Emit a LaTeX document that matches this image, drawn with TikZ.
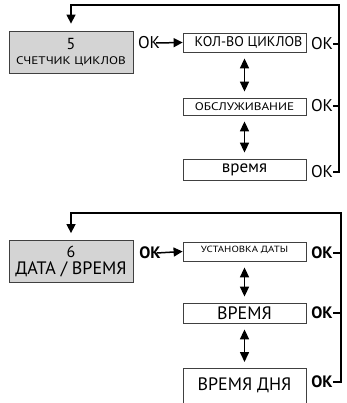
\documentclass[tikz,border=0pt]{standalone}
\usepackage{fontspec}
\setmainfont{PT Sans}
\newfontfamily\widefont[FakeStretch=1.2]{PT Sans}
\usetikzlibrary{arrows.meta}

\newcommand{\fsz}[1]{\fontsize{#1}{#1}\selectfont}

\begin{document}
\begin{tikzpicture}[x=1pt, y=-1pt,
    menu/.style={draw=black!75, line width=0.8pt, fill=black!17,
                 minimum width=124pt, minimum height=42pt, inner sep=0pt,
                 align=center},
    item/.style={draw=black!75, line width=0.8pt, minimum width=123pt,
                 inner sep=0pt},
    ok/.style={inner sep=0pt, font=\fsz{17}},
    okb/.style={inner sep=0pt, font=\fsz{16.5}\bfseries},
    arr/.style={-{Triangle[length=9pt, width=9pt]}, line width=1.5pt},
    dbl/.style={{Triangle[length=10pt, width=9pt]}-{Triangle[length=10pt, width=9pt]},
                line width=1.6pt, shorten <=6pt, shorten >=6pt},
    ret/.style={line width=1.5pt}
  ]
  \useasboundingbox (0,0) rectangle (346,403);
  \clip (0,0) rectangle (346,403);

  % menu 5
  \node[menu] (cnt) at (71,52) {\fsz{16}5\\[3pt] \widefont\fsz{11}СЧЕТЧИК ЦИКЛОВ};
  \node[ok] (okA) at (149,43) {OK};
  \node[item, minimum height=19pt] (cyc) at (244.5,42.5)
    {\fsz{14}\hspace*{8pt}КОЛ-ВО ЦИКЛОВ};
  \node[item, minimum height=17pt] (serv) at (244.5,106.5)
    {\widefont\fsz{11}ОБСЛУЖИВАНИЕ};
  \node[item, minimum height=21pt, text depth=3pt] (time) at (244.5,169.5)
    {\fsz{17}время};
  \node[ok] (okA1) at (322,44) {OK};
  \node[ok] (okA2) at (322,106) {OK};
  \node[ok] (okA3) at (322,172) {OK};
  \coordinate (topA) at (339,5);

  \draw[arr] ([xshift=-4pt]okA.east) -- (cyc.west);
  \draw[dbl] (cyc) -- (serv);
  \draw[dbl] (serv) -- (time);
  \draw[arr, shorten >=7pt] (okA3.east) -| (topA) -| (cnt.north);
  \draw[ret] (okA1.east) -- (okA1.east -| topA);
  \draw[ret] (okA2.east) -- (okA2.east -| topA);

  % menu 6
  \node[menu] (date) at (71,261.5) {\fsz{16}6\\[3pt] \fsz{18}ДАТА / ВРЕМЯ};
  \node[okb] (okB) at (150,253) {OK};
  \node[item, minimum height=19pt, text depth=4pt] (setd) at (244.5,251.5)
    {\widefont\fsz{9}УСТАНОВКА ДАТЫ};
  \node[item, minimum height=20pt] (clk) at (244.5,313) {\fsz{18}ВРЕМЯ};
  \node[item, anchor=north, inner ysep=9pt, text depth=30pt] (day) at (244.5,368)
    {\fsz{18}ВРЕМЯ ДНЯ};
  \node[okb] (okB1) at (322,253) {OK};
  \node[okb] (okB2) at (322,313) {OK};
  \node[okb] (okB3) at (322,382) {OK};
  \coordinate (topB) at (341,213);

  \draw[arr] ([xshift=-4pt]okB.east) -- (setd.west);
  \draw[dbl] (setd) -- (clk);
  \draw[dbl] (clk.south) -- (day.north);
  \draw[arr, shorten >=7pt] (okB3.east) -| (topB) -| (date.north);
  \draw[ret] (okB1.east) -- (okB1.east -| topB);
  \draw[ret] (okB2.east) -- (okB2.east -| topB);
\end{tikzpicture}
\end{document}
